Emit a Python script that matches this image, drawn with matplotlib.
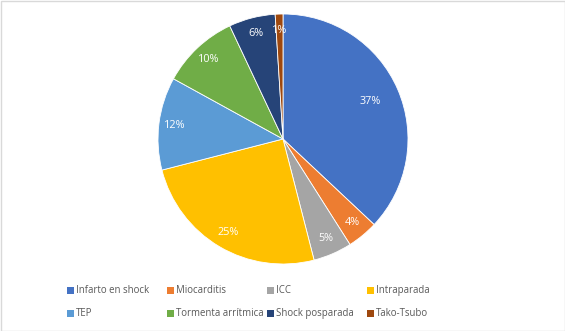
import matplotlib
matplotlib.use("Agg")
import matplotlib.pyplot as plt
from matplotlib.patches import Rectangle

categories = ["Infarto en shock", "Miocarditis", "ICC", "Intraparada",
              "TEP", "Tormenta arrítmica", "Shock posparada", "Tako-Tsubo"]
values = [37, 4, 5, 25, 12, 10, 6, 1]
colors = ["#4472C4", "#ED7D31", "#A5A5A5", "#FFC000",
          "#5B9BD5", "#70AD47", "#264478", "#9E480E"]

W, H = 565, 331
fig = plt.figure(figsize=(W / 100, H / 100), dpi=100)
fig.patch.set_facecolor("white")

# pie axes: center (283,139), radius 125 px
cx, cy, r = 283, 139, 125
ax = fig.add_axes([(cx - r) / W, 1 - (cy + r) / H, 2 * r / W, 2 * r / H])
wedges, texts, autotexts = ax.pie(
    values, colors=colors, startangle=90, counterclock=False,
    autopct="%1.0f%%", pctdistance=0.87, radius=1.0,
    wedgeprops=dict(edgecolor="white", linewidth=0.6),
    textprops=dict(color="white", fontsize=7.8, family="Open Sans"))
# the large slice's label sits closer to the centre
x0, y0 = autotexts[0].get_position()
autotexts[0].set_position((x0 * 0.76 / 0.87, y0 * 0.76 / 0.87))
ax.set_xlim(-1, 1)
ax.set_ylim(-1, 1)
ax.set_aspect("auto")
ax.axis("off")

# legend: 4 columns, 2 rows
col_x = [67, 167, 267, 367]
row_y = [290, 313]
for i, (lab, col) in enumerate(zip(categories, colors)):
    x = col_x[i % 4]
    y = row_y[i // 4]
    fig.patches.append(Rectangle((x / W, 1 - (y + 3.5) / H), 6.5 / W, 7 / H,
                                 transform=fig.transFigure, facecolor=col,
                                 edgecolor="none"))
    fig.text((x + 9) / W, 1 - (y + 0.5) / H, lab, fontsize=6.9, color="#595959",
             va="center", ha="left", family="Open Sans")

# outer border
fig.patches.append(Rectangle((0.5 / W, 0.5 / H), (W - 1) / W, (H - 1) / H,
                             transform=fig.transFigure, facecolor="none",
                             edgecolor="#D9D9D9", linewidth=1))

fig.savefig("out.png", dpi=100)
